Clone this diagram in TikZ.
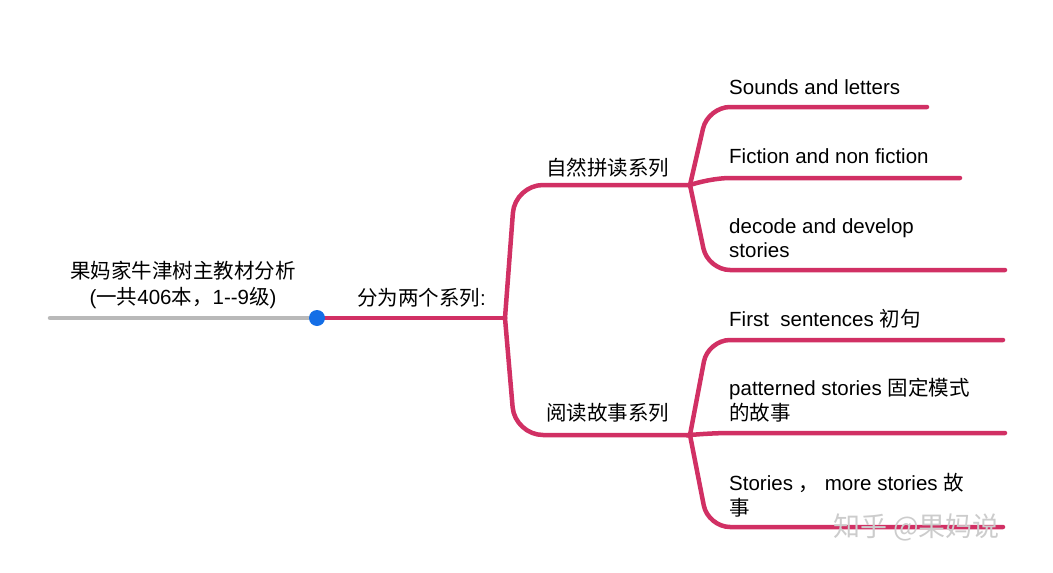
\documentclass[tikz,border=0pt]{standalone}
\usepackage{fontspec}
\setmainfont{Liberation Sans}
\newfontfamily\cjk{Noto Sans CJK SC}
\definecolor{pk}{RGB}{209,48,100}
\definecolor{bl}{RGB}{20,110,230}
\begin{document}
\begin{tikzpicture}[x=1pt,y=-1pt,
  br/.style={draw=pk,line width=4.5pt,rounded corners=28pt,line cap=round},
  sb/.style={draw=pk,line width=4.5pt,rounded corners=22pt,line cap=round},
  lbl/.style={font=\fontsize{20.5}{24.5}\selectfont,anchor=west,inner sep=0pt,align=left}]
\useasboundingbox (0,0) rectangle (1053,573);
\coordinate (s) at (50,318);
\coordinate (d) at (317,318);
\coordinate (j) at (505,318);
\coordinate (u) at (690,185);
\coordinate (l) at (690,435);
\draw[line width=4.5pt,gray!55,line cap=round] (s) -- (d);
\draw[br] (d) -- (j);
\fill[bl] (d) circle (8);
\node[font=\fontsize{20.5}{26}\selectfont,align=center] (root) at (183,285) {{\cjk 果妈家牛津树主教材分析}\\({\cjk 一共}406{\cjk 本，}1-{}-9{\cjk 级})};
\node[lbl] (t0) at (357,298) {{\cjk 分为两个系列}:};
\draw[br] (j) -- (515,185) -- (u);
\draw[br] (j) -- (515,435) -- (l);
\node[lbl] (a) at (546,168) {\cjk 自然拼读系列};
\node[lbl] (b) at (546,413) {\cjk 阅读故事系列};
\draw[sb] (u) -- (708,107) -- (927,107);
\draw[sb] (u) -- (708,178) -- (960,178);
\draw[sb] (u) -- (708,270) -- (1005,270);
\draw[sb] (l) -- (708,340) -- (1003,340);
\draw[sb] (l) -- (708,433) -- (1005,433);
\draw[sb] (l) -- (708,527) -- (1003,527);
\node[lbl] (a1) at (729,87) {Sounds and letters};
\node[lbl] (a2) at (729,156) {Fiction and non fiction};
\node[lbl] (a3) at (729,238) {decode and develop\\stories};
\node[lbl] (b1) at (729,319) {First\ \ sentences {\cjk 初句}};
\node[lbl] (b2) at (729,400) {patterned stories {\cjk 固定模式}\\{\cjk 的故事}};
\node[lbl] (b3) at (729,495) {Stories {\cjk ，} more stories {\cjk 故}\\{\cjk 事}};
\node[font=\fontsize{27}{30}\cjk,text=gray!40,anchor=west,inner sep=0pt] (wm) at (833,527) {知乎 @果妈说};
\end{tikzpicture}
\end{document}
